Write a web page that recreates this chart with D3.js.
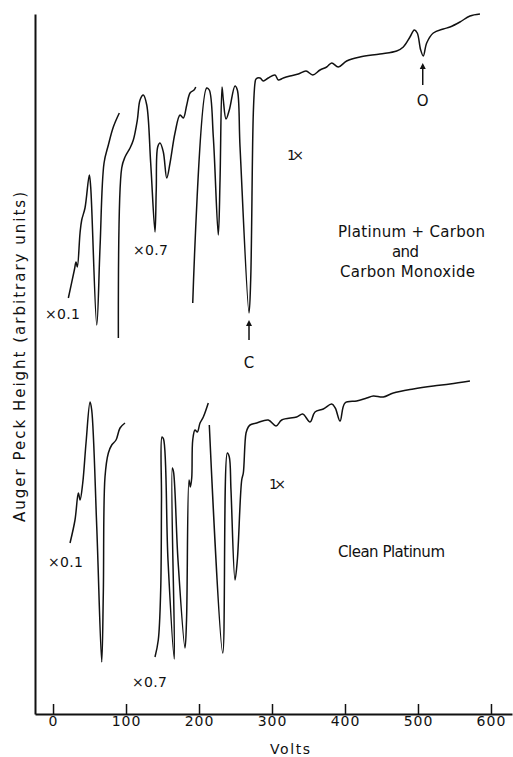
<!DOCTYPE html>
<html>
<meta charset="utf-8">
<head>
<script src="https://d3js.org/d3.v7.min.js"></script>
<style>
    body { margin: 0; background: #fff; }
    .curve { fill: none; stroke: #111; stroke-width: 1.5px; stroke-linejoin: round; }
    text { font-family: "DejaVu Sans", "Liberation Sans", sans-serif; fill: #111; }
</style>
</head>
<body>
<script>
// spectra: [volts, auger peak height (arbitrary units)]
// top: platinum + carbon and carbon monoxide
var topX01 = [[21,41.6],[29.2,44.4],[31.5,45.2],[33.3,44.7],[37,48.1],[39.3,49.4],[43.8,50.6],[49.7,53.9],
    [51.6,52.7],[59.9,38.9],[64.4,46.7],[69.9,55.1],[75.8,56.9],[82.6,58.7],[90.8,60.1]];
var topX07 = [[89.5,37.6],[94.1,54.6],[98.6,55.7],[105.5,56.6],[110,57.4],[115.5,59.4],[119.2,61.4],[123.7,61.9],
    [128.4,60.9],[133.8,55.1],[139.7,48.2],[141.4,52.4],[143.4,56.7],[146.6,57.1],[151.1,56.2],[155.8,53.6],
    [160.3,55.1],[167.1,58.1],[174,59.9],[178.5,59.6],[183.2,60.9],[187.7,62.1],[193.2,62.4],[195.5,62.7]];
var topX1 = [[191.4,41.1],[210.5,62.6],[214.1,62.4],[219.6,57.7],[226.4,47.9],[228.8,53.4],[231.5,62.7],[233.3,61.4],
    [237,59.5],[241.5,60.4],[249.3,62.8],[252.5,62.4],[256.2,56.7],[268.5,40.1],[270.8,43.4],[274.4,60.1],
    [276.7,63.1],[278.1,63.5],[283.6,63.6],[288.1,63.3],[294.9,63.6],[304.1,63.9],[308.6,63.4],[315.5,63.6],
    [324.7,63.8],[336,64],[346.6,64.3],[355.8,63.9],[365.8,64.4],[374.9,64.7],[381.8,65.1],[390.8,64.7],
    [402.3,65.3],[420.5,65.7],[447.9,66],[470.8,66.3],[479.9,66.7],[489,67.7],[494.9,68.4],[499,68.1],
    [503.7,66.4],[507.3,65.8],[511.9,67.1],[521,68.1],[534.7,68.5],[543.8,68.7],[557.5,69.2],[571.2,69.8],[584.9,70]];

// bottom: clean platinum
var botX01 = [[23.3,17.1],[30.1,19.4],[34.7,22.1],[37,21.4],[40.7,23.1],[45.2,27.1],[50.7,31.2],[53,30.4],
    [59.9,18.7],[66.7,5.2],[68.9,12.1],[71.2,23.7],[75.8,26.1],[80.4,26.9],[86.3,27.4],[91.8,28.6],[98.6,29.1]];
var botX07 = [[139.7,5.7],[144.2,7.4],[147.5,12.4],[148.6,21.4],[149.3,27.7],[151.4,27.5],[157.5,15.4],[166.2,5.5],
    [163.4,24.6],[165.1,24.2],[171.2,15.4],[180.8,6.6],[182.9,9.4],[186.3,23.4],[188.1,22.7],[190,23.6],
    [191.4,27.4],[194.5,28.4],[197.7,28.2],[201.4,29.1],[205.9,29.7],[212.7,31.1]];
var botX1 = [[214.1,28.9],[232.5,6.1],[238.8,26.1],[241.5,25.7],[243.8,22.4],[249.3,13.4],[252.5,15.4],[258.5,23.4],
    [260.7,24.1],[264.4,28.1],[267.5,28.7],[269.9,28.9],[279,29.1],[294.9,29.4],[305.5,28.8],[313.3,29.4],
    [333.8,29.7],[342.1,30],[352.1,29.2],[358.9,30.2],[370.3,30.5],[381.8,31],[386.7,30.6],[393.2,29.3],
    [400,31.1],[416,31.3],[429.7,31.6],[438.8,31.8],[452.5,31.7],[466.2,32.1],[493.6,32.5],[521,32.8],
    [543.8,33],[571.2,33.3]];

var xTicks = [0, 100, 200, 300, 400, 500, 600];

var width = 513, height = 757;

var svg = d3.select("body").append("svg")
    .attr("width", width)
    .attr("height", height);

// scales
var x = d3.scaleLinear().domain([-24.7, 628.8]).range([35, 512]);
var y = d3.scaleLinear().domain([0, 70]).range([714, 14]);

var line = d3.line()
    .x(function(d) { return x(d[0]); })
    .y(function(d) { return y(d[1]); })
    .curve(d3.curveCatmullRom.alpha(0.5));

[topX01, topX07, topX1, botX01, botX07, botX1].forEach(function(seg) {
    svg.append("path").datum(seg).attr("class", "curve").attr("d", line);
});

// x axis, ticks pointing up into the plot
var xAxis = svg.append("g")
    .attr("transform", "translate(0,714)")
    .call(d3.axisBottom(x).tickValues(xTicks).tickSizeInner(-10).tickSizeOuter(0));
xAxis.select(".domain").attr("stroke", "#111").attr("stroke-width", 2);
xAxis.selectAll(".tick line").attr("stroke", "#111").attr("stroke-width", 1.5);
xAxis.selectAll(".tick text")
    .attr("y", 12)
    .attr("dy", 0)
    .style("font-size", "14px")
    .style("letter-spacing", "1px")
    .style("font-family", "'DejaVu Sans', sans-serif")
    .attr("fill", "#111");

// y axis, no ticks
var yAxis = svg.append("g")
    .attr("transform", "translate(35,0)")
    .call(d3.axisLeft(y).tickValues([]).tickSizeOuter(0));
yAxis.select(".domain").attr("stroke", "#111").attr("stroke-width", 2);

// axis titles
svg.append("text")
    .attr("x", 290).attr("y", 754)
    .style("text-anchor", "middle")
    .style("font-size", "14px")
    .attr("textLength", 40)
    .text("Volts");

svg.append("text")
    .attr("transform", "translate(25,357) rotate(-90)")
    .style("text-anchor", "middle")
    .style("font-size", "15px")
    .attr("textLength", 330)
    .text("Auger Peck Height (arbitrary units)");

// annotations
function label(txt, px, py, size, len) {
    var t = svg.append("text")
        .attr("x", px).attr("y", py)
        .style("font-size", size + "px")
        .text(txt);
    if (len) t.attr("textLength", len);
    return t;
}

label("×0.1", 45, 319, 14, 35);
label("×0.7", 133, 255, 14, 35);
label("1 ×", 287, 160, 14, 17);
label("×0.1", 48, 567, 14, 35);
label("×0.7", 132, 687, 14, 35);
label("1 ×", 269, 489, 14, 17);

label("Platinum + Carbon", 338, 237, 15, 147);
label("and", 392, 257, 15, 27);
label("Carbon Monoxide", 340, 277, 15, 135);
label("Clean Platinum", 338, 557, 15, 107);

// C and O markers with arrows
var marks = [["C", 268.5, 37.4, 39.4, 34.6], ["O", 506.5, 62.9, 65.1, 60.8]];
marks.forEach(function(m) {
    svg.append("line")
        .attr("x1", x(m[1])).attr("x2", x(m[1]))
        .attr("y1", y(m[2])).attr("y2", y(m[3]) + 2)
        .attr("stroke", "#111").attr("stroke-width", 1.5);
    svg.append("path")
        .attr("d", "M" + (x(m[1]) - 3) + "," + (y(m[3]) + 6) + " L" + x(m[1]) + "," + y(m[3]) + " L" + (x(m[1]) + 3) + "," + (y(m[3]) + 6) + " Z")
        .attr("fill", "#111");
    svg.append("text")
        .attr("x", x(m[1])).attr("y", y(m[4]))
        .style("text-anchor", "middle")
        .style("font-size", "15px")
        .text(m[0]);
});
</script>
</body>
</html>
